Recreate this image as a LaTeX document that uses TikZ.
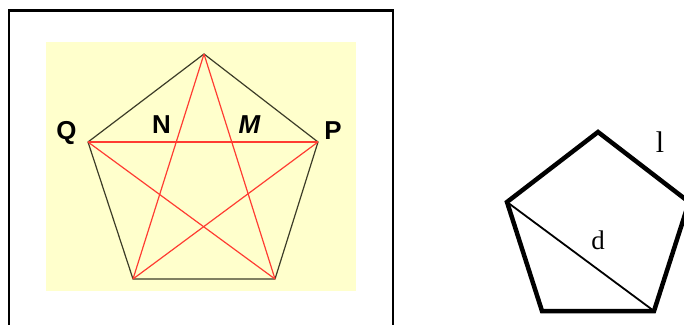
\documentclass[tikz,border=0pt]{standalone}
\usepackage{fontspec}
\setmainfont{Liberation Serif}
\newfontfamily\lblfont{Liberation Sans}
\begin{document}
\begin{tikzpicture}[x=1bp,y=-1bp,
  frame/.style={draw=black,line width=2.5bp},
  edgeline/.style={draw={rgb,255:red,60;green,60;blue,40},line width=1.2bp},
  starline/.style={draw={rgb,255:red,255;green,60;blue,50},line width=1.2bp},
  ptlabel/.style={font=\lblfont\bfseries\fontsize{26}{26}\selectfont,inner sep=0pt},
  thickside/.style={draw=black,line width=4.5bp,line join=miter},
  diag/.style={draw=black,line width=1.8bp},
  serlabel/.style={inner sep=0pt}]
\clip (0,0) rectangle (684,324);
\fill[white] (0,0) rectangle (684,324);
% frame
\draw[frame] (9,340) -- (9,10.5) -- (393,10.5) -- (393,340);
% yellow panel
\fill[fill={rgb,255:red,255;green,255;blue,204}] (46,42) rectangle (356,291);
% left pentagon vertices
\coordinate (T) at (204,54);
\coordinate (Q) at (88,142);
\coordinate (P) at (318,142);
\coordinate (BL) at (133,279);
\coordinate (BR) at (275,279);
\draw[edgeline] (T) -- (P) -- (BR) -- (BL) -- (Q) -- cycle;
\draw[starline] (Q) -- (P);
\draw[starline] (T) -- (BL);
\draw[starline] (T) -- (BR);
\draw[starline] (Q) -- (BR);
\draw[starline] (P) -- (BL);
\node[ptlabel] (lq) at (66.5,133) {Q};
\node[ptlabel] (ln) at (161.5,125) {N};
\node[ptlabel] (lm) at (249.5,125) {\itshape M};
\node[ptlabel] (lp) at (333,130.5) {P};
% right pentagon
\coordinate (A) at (598,132);
\coordinate (B) at (689,202);
\coordinate (C) at (654,311);
\coordinate (D) at (542,311);
\coordinate (E) at (507,202);
\draw[thickside] (A) -- (B) -- (C) -- (D) -- (E) -- cycle;
\draw[diag] (E) -- (C);
\node[serlabel,font=\fontsize{30}{30}\selectfont] (ll) at (660,142) {l};
\node[serlabel,font=\fontsize{27}{27}\selectfont] (ld) at (598,240) {d};
\end{tikzpicture}
\end{document}
